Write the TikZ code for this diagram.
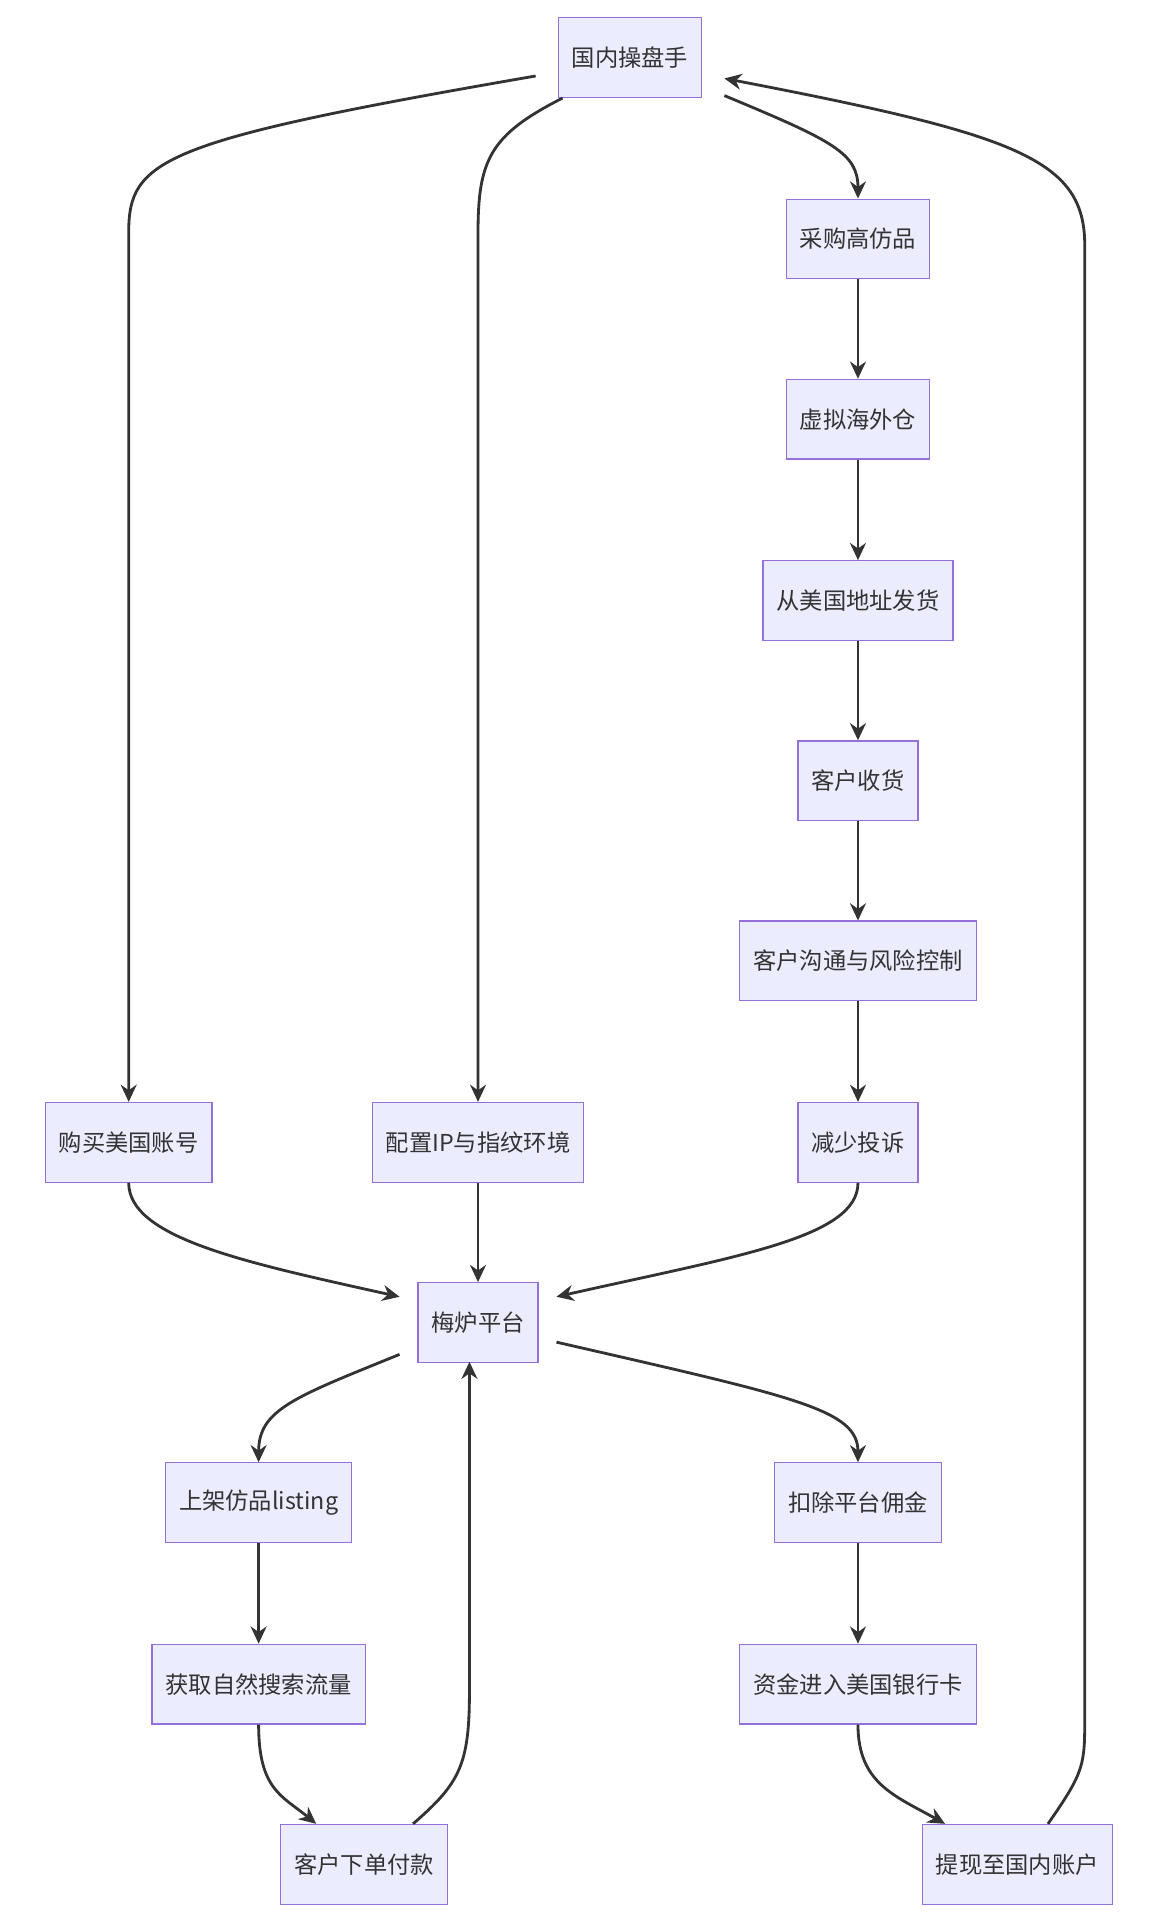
\documentclass[tikz,border=0pt]{standalone}
\usepackage{fontspec}
\setmainfont{Noto Sans CJK SC}
\usetikzlibrary{arrows.meta}
\definecolor{nf}{HTML}{ECECFF}\definecolor{nd}{HTML}{9370DB}\definecolor{ed}{HTML}{333333}
\begin{document}
\begin{tikzpicture}[x=1pt,y=-1pt,
 box/.style={draw=nd,fill=nf,line width=1pt,minimum height=65pt,inner xsep=11pt,font=\fontsize{19}{19}\selectfont,text=ed},
 e/.style={draw=ed,line width=2.3pt,-{Stealth[length=14pt,width=13pt]}}]
\useasboundingbox (0,0) rectangle (950,1573);
\node[box] (A) at (514,47) {国内操盘手};
\node[box] (B) at (700,195) {采购高仿品};
\node[box] (C) at (700,342) {虚拟海外仓};
\node[box] (D) at (700,490) {从美国地址发货};
\node[box] (E) at (700,637) {客户收货};
\node[box] (F) at (700,784) {客户沟通与风险控制};
\node[box] (G) at (700,932) {减少投诉};
\node[box] (H) at (105,932) {购买美国账号};
\node[box] (I) at (390,932) {配置IP与指纹环境};
\node[box] (J) at (390,1079) {梅炉平台};
\node[box] (K) at (211,1226) {上架仿品listing};
\node[box] (L) at (211,1374) {获取自然搜索流量};
\node[box] (M) at (297,1521) {客户下单付款};
\node[box] (N) at (700,1226) {扣除平台佣金};
\node[box] (O) at (700,1374) {资金进入美国银行卡};
\node[box] (P) at (830,1521) {提现至国内账户};
\coordinate (a1) at (437,62); \coordinate (a2) at (459,80); \coordinate (a3) at (591,78); \coordinate (a4) at (591,64);
\coordinate (p1) at (855,1488); \coordinate (j1) at (326,1105); \coordinate (j2) at (454,1095);
\coordinate (j3) at (326,1058); \coordinate (j4) at (454,1058); \coordinate (j5) at (383,1111);
\coordinate (m1) at (337,1488); \coordinate (m2) at (258,1488); \coordinate (p2) at (771,1488);
\draw[e] (a1) .. controls (130,115) and (105,130) .. (105,190) -- (H.north);
\draw[e] (a2) .. controls (400,110) and (390,130) .. (390,190) -- (I.north);
\draw[e] (a3) .. controls (680,115) and (700,125) .. (B.north);
\draw[e] (B)--(C); \draw[e] (C)--(D); \draw[e] (D)--(E); \draw[e] (E)--(F); \draw[e] (F)--(G);
\draw[e] (p1) .. controls (885,1445) and (885,1440) .. (885,1400) -- (885,200) .. controls (885,130) and (830,110) .. (a4);
\draw[e] (H.south) .. controls (105,1010) and (200,1030) .. (j3);
\draw[e] (I)--(J);
\draw[e] (G.south) .. controls (700,1010) and (600,1025) .. (j4);
\draw[e] (j1) .. controls (240,1140) and (211,1150) .. (K.north);
\draw[e] (j2) .. controls (650,1140) and (700,1150) .. (N.north);
\draw[e] (K)--(L); \draw[e] (N)--(O);
\draw[e] (L.south) .. controls (211,1460) and (230,1465) .. (m2);
\draw[e] (O.south) .. controls (700,1455) and (730,1465) .. (p2);
\draw[e] (m1) .. controls (375,1455) and (383,1440) .. (383,1380) -- (j5);
\end{tikzpicture}
\end{document}
